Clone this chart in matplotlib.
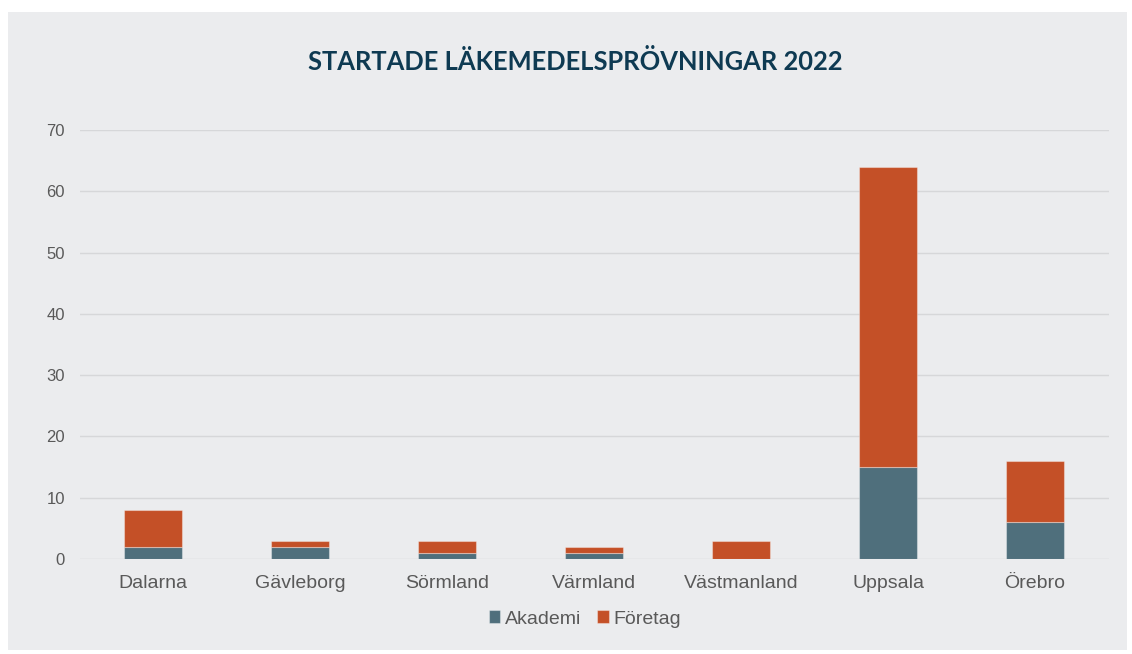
import matplotlib
matplotlib.use("Agg")
import matplotlib.pyplot as plt
from matplotlib.patches import Rectangle
import numpy as np

categories = ["Dalarna", "Gävleborg", "Sörmland", "Värmland", "Västmanland", "Uppsala", "Örebro"]
akademi = [2, 2, 1, 1, 0, 15, 6]
foretag = [6, 1, 2, 1, 3, 49, 10]
series_names = ["Akademi", "Företag"]
yticks = [0, 10, 20, 30, 40, 50, 60, 70]
title = "STARTADE LÄKEMEDELSPRÖVNINGAR 2022"

c_ak = "#4F6F7C"
c_fo = "#C45027"
bg = "#EBECEE"
txt = "#595959"

fig = plt.figure(figsize=(11.32, 6.54), dpi=100)
fig.patch.set_facecolor("white")
fig.patches.append(Rectangle((8/1132, 1-650/654), (1127-8)/1132, (650-12)/654,
                             transform=fig.transFigure, facecolor=bg, edgecolor="none", zorder=-10))

ax = fig.add_axes([79.5/1132, 1-559/654, (1108.5-79.5)/1132, (559-130)/654])
ax.set_facecolor("none")
ax.set_zorder(1)
x = np.arange(len(categories))
w = 0.395
ax.bar(x, akademi, w, color=c_ak, edgecolor=(1, 1, 1, 0.35), linewidth=0.8, label=series_names[0], zorder=3)
ax.bar(x, foretag, w, bottom=akademi, color=c_fo, edgecolor=(1, 1, 1, 0.35), linewidth=0.8, label=series_names[1], zorder=3)

ax.set_xlim(-0.5, len(categories) - 0.5)
ax.set_ylim(0, 70)
ax.set_yticks(yticks)
ax.set_yticklabels([str(v) for v in yticks], fontsize=12, color=txt, family="Liberation Sans")
ax.set_xticks(x)
ax.set_xticklabels(categories, fontsize=14, color=txt, family="Liberation Sans")
ax.tick_params(axis="both", length=0)
ax.tick_params(axis="y", pad=10.4)
ax.tick_params(axis="x", pad=11.5)
ax.grid(axis="y", color="#D6D7D9", linewidth=1, zorder=0)
ax.set_axisbelow(True)
for s in ax.spines.values():
    s.set_visible(False)

fig.text(575/1132, 1-62/654, title, ha="center", va="center", fontsize=18.4,
         fontweight="bold", color="#0E3A52", family="Lato", zorder=5)

leg = fig.legend(loc="center", bbox_to_anchor=(585/1132, 1-619/654), ncol=2, frameon=False,
                 prop={"family": "Liberation Sans", "size": 14}, handlelength=0.6, handleheight=0.6,
                 handletextpad=0.25, columnspacing=0.8, borderaxespad=0)
for t in leg.get_texts():
    t.set_color(txt)

fig.savefig("out.png", dpi=100, facecolor=fig.get_facecolor())
